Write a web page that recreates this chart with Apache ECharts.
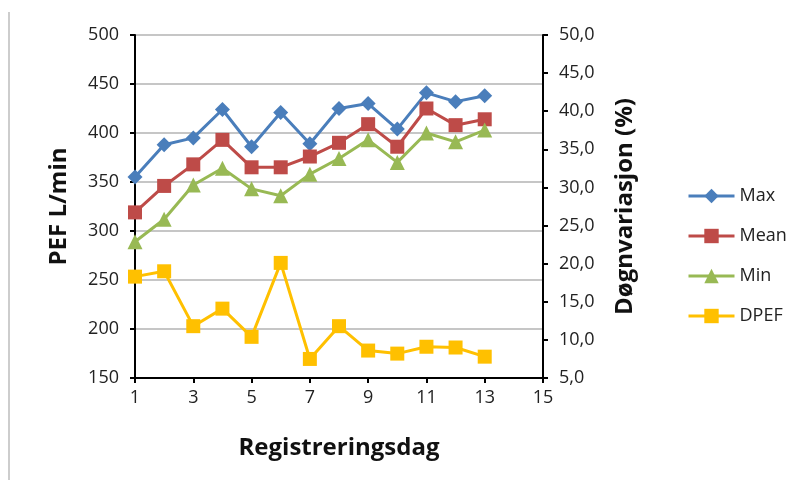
<!DOCTYPE html>
<html>
<head>
<meta charset="utf-8">
<script src="https://cdn.jsdelivr.net/npm/echarts@6/dist/echarts.min.js"></script>
<style>html,body{margin:0;padding:0;background:#fff}#c{width:801px;height:484px}</style>
</head>
<body>
<div id="c"></div>
<script>
const days = [1,2,3,4,5,6,7,8,9,10,11,12,13];
const maxVals  = [355,388,395,424,386,421,389,425,430,404,441,432,438];
const meanVals = [319,346,368,393,365,365,376,390,409,386,425,408,414];
const minVals  = [289,312,347,364,343,336,358,374,393,370,400,391,403];
const dpefVals = [18.3,19.0,11.8,14.1,10.4,20.1,7.5,11.8,8.6,8.2,9.1,9.0,7.8];

const FONT = '"Open Sans", sans-serif';
const pairs = arr => days.map((d,i)=>[d,arr[i]]);

const chart = echarts.init(document.getElementById('c'), null, {renderer:'canvas'});
chart.setOption({
  animation:false,
  backgroundColor:'#fff',
  textStyle:{fontFamily:FONT},
  graphic:[{type:'line',shape:{x1:9,y1:12,x2:9,y2:480},style:{stroke:'#bdbdbd',lineWidth:1.5}}],
  grid:{left:135,right:258,top:35,bottom:106},
  legend:{
    orient:'vertical', left:682, top:182, itemWidth:46, itemHeight:18, itemGap:22,
    textStyle:{fontSize:18,color:'#222',fontFamily:FONT},
    lineStyle:{width:3},
    data:['Max','Mean','Min','DPEF']
  },
  xAxis:{
    type:'value', min:1, max:15, interval:2,
    name:'Registreringsdag', nameLocation:'middle', nameGap:58,
    nameTextStyle:{fontSize:24,fontWeight:'bold',color:'#111',fontFamily:FONT},
    axisLine:{lineStyle:{color:'#000',width:2}},
    axisTick:{show:true,length:5,lineStyle:{color:'#000',width:2}},
    axisLabel:{fontSize:18,color:'#222',margin:11},
    splitLine:{show:false}
  },
  yAxis:[{
    type:'value', min:150, max:500, interval:50, position:'left',
    name:'PEF L/min', nameLocation:'middle', nameGap:64, nameRotate:90,
    nameTextStyle:{fontSize:24,fontWeight:'bold',color:'#111',fontFamily:FONT},
    axisLine:{show:true,lineStyle:{color:'#000',width:2}},
    axisTick:{show:true,length:5,lineStyle:{color:'#000',width:2}},
    axisLabel:{fontSize:18,color:'#222',margin:16},
    splitLine:{show:true,lineStyle:{color:'#b3b3b3',width:1.5}}
  },{
    type:'value', min:5, max:50, interval:5, position:'right',
    name:'Døgnvariasjon (%)', nameLocation:'middle', nameGap:70, nameRotate:90,
    nameTextStyle:{fontSize:24,fontWeight:'bold',color:'#111',fontFamily:FONT},
    axisLine:{show:true,lineStyle:{color:'#000',width:2}},
    axisTick:{show:true,length:5,lineStyle:{color:'#000',width:2}},
    axisLabel:{fontSize:18,color:'#222',margin:16,formatter:v=>v.toFixed(1).replace('.',',')},
    splitLine:{show:false}
  }],
  series:[
    {name:'Max',type:'line',data:pairs(maxVals),yAxisIndex:0,symbol:'diamond',symbolSize:15,
     lineStyle:{color:'#4a7ebb',width:3},itemStyle:{color:'#4a7ebb'}},
    {name:'Mean',type:'line',data:pairs(meanVals),yAxisIndex:0,symbol:'rect',symbolSize:14,
     lineStyle:{color:'#be4b48',width:3},itemStyle:{color:'#be4b48'}},
    {name:'Min',type:'line',data:pairs(minVals),yAxisIndex:0,symbol:'triangle',symbolSize:15,
     lineStyle:{color:'#98b954',width:3},itemStyle:{color:'#98b954'}},
    {name:'DPEF',type:'line',data:pairs(dpefVals),yAxisIndex:1,symbol:'rect',symbolSize:14,
     lineStyle:{color:'#ffc000',width:3},itemStyle:{color:'#ffc000'}}
  ]
});
</script>
</body>
</html>
